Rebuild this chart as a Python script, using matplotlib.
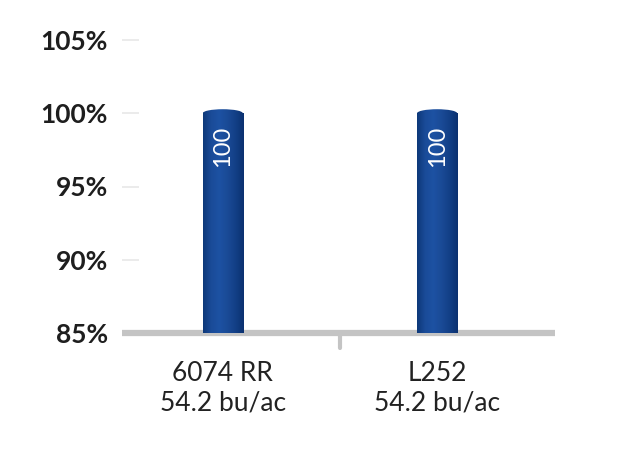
import matplotlib
matplotlib.use("Agg")
import matplotlib.pyplot as plt
import numpy as np
from matplotlib.patches import Rectangle, Ellipse
from matplotlib.colors import LinearSegmentedColormap

categories = ["6074 RR\n54.2 bu/ac", "L252\n54.2 bu/ac"]
values = [100, 100]
value_labels = ["100", "100"]
yticks = [85, 90, 95, 100, 105]
ytick_labels = ["85%", "90%", "95%", "100%", "105%"]

plt.rcParams['font.family'] = ['Lato', 'DejaVu Sans']

fig = plt.figure(figsize=(6.4, 4.5), dpi=100)
ax = fig.add_axes([122/640, 117/450, 433/640, (333-40)/450])
ax.set_ylim(85, 105)
ax.set_xlim(-0.47, 1.55)

cmap = LinearSegmentedColormap.from_list(
    "cyl", ["#0d3879", "#1a4b98", "#1d52a3", "#1a4a96", "#123f86", "#0b3170"])
grad = np.linspace(0, 1, 256).reshape(1, -1)

w = 0.187
eh = 0.55
for i, v in enumerate(values):
    x = i
    patches = [Rectangle((x - w/2, 85), w, v - 85),
               Ellipse((x, v), w, eh),
               Ellipse((x, 85), w, eh)]
    for p in patches:
        p.set_facecolor("none")
        p.set_edgecolor("none")
        ax.add_patch(p)
        im = ax.imshow(grad, cmap=cmap, aspect="auto",
                       extent=[x - w/2, x + w/2, 85 - eh, v + eh],
                       zorder=3, interpolation="bilinear")
        im.set_clip_path(p)
    ax.annotate(value_labels[i], xy=(x, v), xytext=(0, -33),
                textcoords="offset pixels",
                ha="center", va="center", rotation=90, color="white",
                fontsize=17, zorder=5)

ax.set_xlim(-0.47, 1.55)
ax.set_ylim(85, 105)

for s in ax.spines.values():
    s.set_visible(False)
ax.axhline(85, color="#c4c4c4", lw=4.5, zorder=2, clip_on=False,
           solid_capstyle="butt")
ax.plot([0.547, 0.547], [85, 84.0], color="#c4c4c4", lw=3, clip_on=False,
        solid_capstyle="round", zorder=2)

ax.set_yticks(yticks)
ax.set_yticklabels(ytick_labels, fontsize=19, fontweight="bold", color="#1e1e1e")
ax.tick_params(axis="y", direction="in", length=12, width=1.2,
               color="#e8e8e8", pad=10)
ax.set_xticks([0, 1])
ax.set_xticklabels(categories, fontsize=19, color="#222222", linespacing=1.25)
ax.tick_params(axis="x", length=0, pad=20)

fig.savefig("out.png", dpi=100)
